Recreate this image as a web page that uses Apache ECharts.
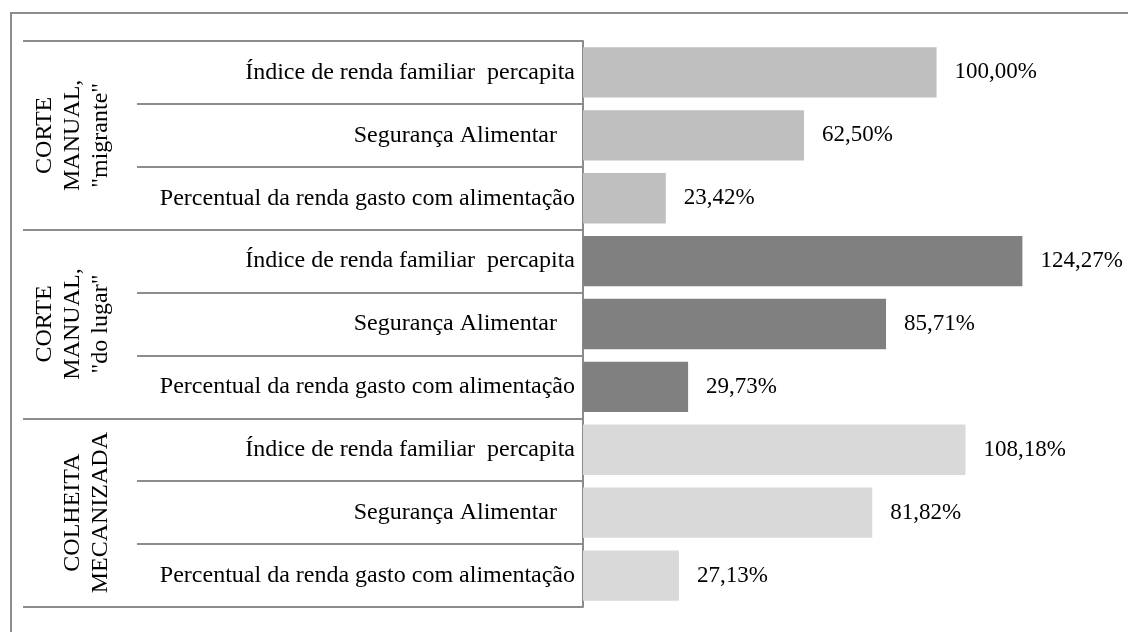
<!DOCTYPE html>
<html>
<head>
<meta charset="utf-8">
<script src="https://cdn.jsdelivr.net/npm/echarts@6/dist/echarts.min.js"></script>
<style>
html,body{margin:0;padding:0;background:#fff;}
#chart{width:1128px;height:632px;}
</style>
</head>
<body>
<div id="chart"></div>
<script>
const groups = ['CORTE\nMANUAL,\n"migrante"', 'CORTE\nMANUAL,\n"do lugar"', 'COLHEITA\nMECANIZADA'];
const indicators = ['Índice de renda familiar  percapita', 'Segurança Alimentar', 'Percentual da renda gasto com alimentação'];
const valuesMigrante = [100.00, 62.50, 23.42];
const valuesDoLugar = [124.27, 85.71, 29.73];
const valuesMecanizada = [108.18, 81.82, 27.13];
const groupColors = ['#bfbfbf', '#808080', '#d9d9d9'];

const groupValues = [valuesMigrante, valuesDoLugar, valuesMecanizada];
const categories = [];
const barData = [];
groupValues.forEach((vals, g) => {
  vals.forEach((v, i) => {
    categories.push(indicators[i]);
    barData.push({ value: v, itemStyle: { color: groupColors[g] } });
  });
});

const FONT = "'Liberation Serif', 'Times New Roman', serif";
const lineColor = '#8c8c8c';

const chart = echarts.init(document.getElementById('chart'), null, { renderer: 'canvas' });
chart.setOption({
  animation: false,
  backgroundColor: '#fff',
  textStyle: { fontFamily: FONT },
  graphic: [{
    type: 'rect',
    shape: { x: 11, y: 13, width: 1300, height: 800 },
    style: { fill: 'none', stroke: lineColor, lineWidth: 2 },
    silent: true
  }],
  grid: { left: 583, right: 50, top: 41, bottom: 25, containLabel: false },
  xAxis: {
    type: 'value', min: 0, max: 140,
    show: false
  },
  yAxis: [{
    type: 'category',
    data: categories,
    inverse: true,
    axisLine: { show: true, lineStyle: { color: lineColor, width: 2 } },
    axisTick: { show: true, interval: 0, length: 446, lineStyle: { color: lineColor, width: 2 } },
    axisLabel: {
      interval: 0, margin: 8, fontFamily: FONT, fontSize: 24, color: '#000',
      formatter: (v, idx) => (idx % 3 === 1 ? '{s|' + v + '}' : v),
      rich: { s: { fontFamily: FONT, fontSize: 24, color: '#000', padding: [0, 18, 0, 0] } }
    },
    splitLine: { show: false }
  }, {
    type: 'category',
    data: groups,
    inverse: true,
    position: 'left',
    axisLine: { show: false },
    axisTick: { show: true, interval: 0, length: 560, lineStyle: { color: lineColor, width: 2 } },
    axisLabel: { interval: 0, rotate: 90, margin: 468, fontFamily: FONT, fontSize: 24, lineHeight: 28, color: '#000', align: 'center' },
    splitLine: { show: false }
  }],
  series: [{
    type: 'bar',
    yAxisIndex: 0,
    data: barData,
    barCategoryGap: '20%',
    label: {
      show: true,
      position: 'right',
      distance: 18,
      fontFamily: FONT,
      fontSize: 23,
      color: '#000',
      formatter: p => p.value.toFixed(2).replace('.', ',') + '%'
    }
  }]
});
</script>
</body>
</html>
